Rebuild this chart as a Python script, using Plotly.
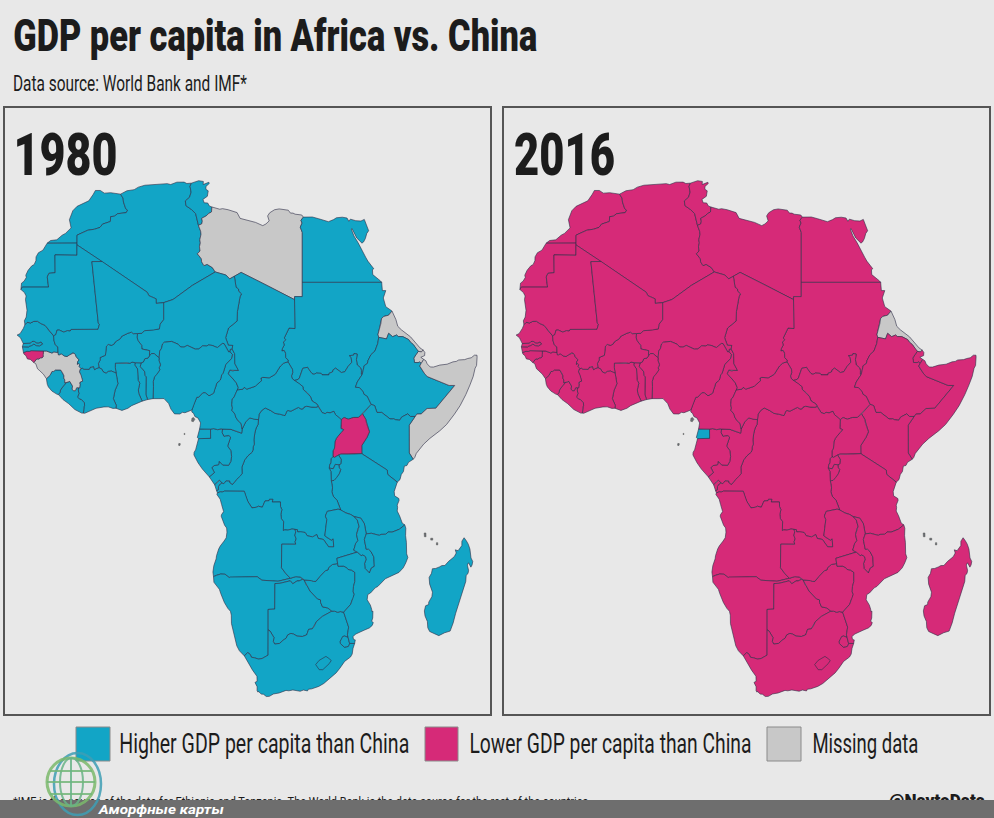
import json
import numpy as np
import plotly.graph_objects as go

BG = '#e8e8e8'
BLUE = '#12a5c6'
PINK = '#d62a78'
GRAY = '#c8c8c8'
INK = '#1c1c1c'
BORDER = 'rgba(45,45,70,0.6)'
FONT = 'Roboto, sans-serif'

# country outlines, lon/lat
outlines = {
'MAR': [(-2.17,35.17),(-1.79,34.53),(-1.73,33.92),(-1.39,32.86),(-1.12,32.65),(-1.31,32.26),(-2.62,32.09),(-3.07,31.72),(-3.65,31.64),(-3.69,30.90),(-4.86,30.5),(-5.24,30.0),(-6.06,29.73),(-7.06,29.58),(-8.67,28.84),(-8.67,27.66),(-13.14,27.64),(-12.62,28.04),(-11.69,28.15),(-10.9,28.83),(-10.4,29.1),(-9.56,29.93),(-9.81,31.18),(-9.3,32.56),(-8.66,33.24),(-7.65,33.70),(-6.91,34.11),(-6.24,35.15),(-5.93,35.76),(-5.19,35.76),(-4.59,35.33),(-3.64,35.40),(-2.6,35.18)],
'ESH': [(-8.67,27.66),(-8.68,27.40),(-8.69,25.88),(-11.97,25.93),(-11.94,23.37),(-12.87,23.28),(-13.12,22.77),(-12.93,21.33),(-16.85,21.33),(-17.06,21.0),(-17.02,21.42),(-16.97,21.89),(-16.59,22.16),(-16.26,22.68),(-16.33,23.02),(-15.98,23.72),(-15.43,24.36),(-15.09,24.52),(-14.82,25.10),(-14.8,25.64),(-14.44,26.25),(-13.77,26.62),(-13.14,27.64)],
'DZA': [(-2.17,35.17),(-1.21,35.71),(-0.13,35.89),(0.50,36.30),(1.47,36.61),(3.16,36.78),(4.82,36.87),(5.32,36.72),(6.26,37.11),(7.33,37.12),(7.74,36.89),(8.42,36.95),(8.22,36.43),(8.38,35.48),(8.14,34.66),(7.52,34.10),(7.61,33.34),(8.43,32.75),(9.06,32.10),(9.48,30.31),(9.81,29.42),(9.86,28.96),(9.68,28.14),(9.76,27.69),(9.63,27.14),(9.72,26.51),(9.32,26.09),(9.91,25.37),(9.95,24.94),(10.30,24.38),(10.77,24.56),(11.56,24.10),(11.99,23.47),(8.57,21.57),(5.68,19.60),(4.27,19.16),(3.16,19.06),(3.15,19.69),(2.68,19.86),(2.06,20.14),(1.82,20.61),(-1.55,22.79),(-4.92,24.97),(-8.68,27.40),(-8.67,27.66),(-8.67,28.84),(-7.06,29.58),(-6.06,29.73),(-5.24,30.0),(-4.86,30.5),(-3.69,30.90),(-3.65,31.64),(-3.07,31.72),(-2.62,32.09),(-1.31,32.26),(-1.12,32.65),(-1.39,32.86),(-1.73,33.92),(-1.79,34.53)],
'TUN': [(9.48,30.31),(9.06,32.10),(8.43,32.75),(7.61,33.34),(7.52,34.10),(8.14,34.66),(8.38,35.48),(8.22,36.43),(8.42,36.95),(9.51,37.35),(10.21,37.23),(10.18,36.72),(11.03,37.09),(11.10,36.90),(10.60,36.41),(10.59,35.95),(10.94,35.70),(10.81,34.83),(10.15,34.33),(10.34,33.79),(10.86,33.77),(11.11,33.29),(11.49,33.14),(11.43,32.37),(10.94,32.08),(10.64,31.76),(9.95,31.38),(10.06,30.96),(9.97,30.54)],
'LBY': [(14.85,22.86),(14.14,22.49),(13.58,23.04),(11.99,23.47),(11.56,24.10),(10.77,24.56),(10.30,24.38),(9.95,24.94),(9.91,25.37),(9.32,26.09),(9.72,26.51),(9.63,27.14),(9.76,27.69),(9.68,28.14),(9.86,28.96),(9.81,29.42),(9.48,30.31),(9.97,30.54),(10.06,30.96),(9.95,31.38),(10.64,31.76),(10.94,32.08),(11.43,32.37),(11.49,33.14),(12.66,32.79),(13.08,32.88),(13.92,32.71),(15.25,32.27),(15.71,31.38),(16.61,31.18),(18.02,30.76),(19.09,30.27),(19.57,30.53),(20.05,30.99),(19.82,31.75),(20.13,32.24),(20.85,32.71),(21.54,32.84),(22.90,32.64),(23.24,32.19),(23.61,32.19),(23.93,32.02),(24.92,31.90),(25.16,31.57),(24.80,31.09),(24.96,30.66),(24.70,30.04),(25.00,29.24),(25.00,22.00),(25.00,20.00),(23.85,20.00),(23.84,19.58),(19.85,21.50),(15.86,23.41)],
'EGY': [(36.87,22.0),(32.9,22.0),(29.02,22.0),(25.0,22.0),(25.0,29.24),(24.70,30.04),(24.96,30.66),(24.80,31.09),(25.16,31.57),(26.50,31.59),(27.46,31.32),(28.45,31.03),(28.91,30.87),(29.68,31.19),(30.10,31.47),(30.98,31.56),(31.69,31.43),(31.96,30.93),(32.19,31.26),(32.99,31.02),(33.77,30.97),(34.27,31.22),(34.92,29.50),(34.64,29.10),(34.43,28.34),(34.15,27.82),(33.92,27.65),(33.14,28.42),(32.42,29.85),(32.32,29.76),(32.73,28.71),(33.35,27.70),(34.10,26.14),(34.47,25.60),(34.80,25.03),(35.69,23.93),(35.49,23.81),(35.53,23.10),(36.69,22.20)],
'SDN': [(23.81,8.67),(24.19,8.73),(24.54,8.92),(25.07,10.27),(25.79,10.41),(25.96,10.14),(26.48,9.55),(26.75,9.47),(27.11,9.64),(27.83,9.60),(27.97,9.40),(28.97,9.40),(29.00,9.60),(29.52,9.79),(29.62,10.08),(29.99,10.29),(30.84,9.71),(31.35,9.81),(31.85,10.53),(32.40,11.08),(32.31,11.68),(32.07,11.97),(32.67,12.02),(32.74,12.25),(33.21,12.18),(33.09,11.44),(33.21,10.72),(33.72,10.33),(33.84,9.98),(33.82,9.48),(33.96,9.46),(34.26,10.63),(34.73,10.91),(34.83,11.32),(35.26,12.08),(35.86,12.58),(36.27,13.56),(36.43,14.42),(36.32,14.82),(36.75,16.29),(36.85,16.96),(37.17,17.26),(37.90,17.43),(38.41,18.0),(37.86,18.37),(37.48,18.61),(37.11,19.81),(37.48,20.84),(36.97,20.84),(36.87,22.0),(32.9,22.0),(29.02,22.0),(25.0,22.0),(25.0,20.0),(23.85,20.0),(23.84,19.58),(23.89,15.61),(23.02,15.68),(22.57,14.94),(22.30,14.33),(22.51,14.09),(22.18,13.79),(22.30,13.37),(22.04,12.96),(21.94,12.59),(22.29,12.65),(22.50,12.26),(22.51,11.68),(22.88,11.38),(22.86,11.14),(23.55,10.09),(23.56,9.68),(23.39,9.27),(23.46,8.95)],
'SSD': [(30.83,3.51),(29.95,4.17),(29.72,4.60),(29.16,4.39),(28.70,4.46),(28.43,4.29),(27.98,4.41),(27.37,5.23),(27.21,5.55),(26.47,5.95),(26.21,6.55),(25.80,6.98),(25.12,7.50),(25.11,7.83),(24.57,8.23),(23.81,8.67),(24.19,8.73),(24.54,8.92),(25.07,10.27),(25.79,10.41),(25.96,10.14),(26.48,9.55),(26.75,9.47),(27.11,9.64),(27.83,9.60),(27.97,9.40),(28.97,9.40),(29.00,9.60),(29.52,9.79),(29.62,10.08),(29.99,10.29),(30.84,9.71),(31.35,9.81),(31.85,10.53),(32.40,11.08),(32.31,11.68),(32.07,11.97),(32.67,12.02),(32.74,12.25),(33.21,12.18),(33.09,11.44),(33.21,10.72),(33.72,10.33),(33.84,9.98),(33.82,9.48),(33.96,9.46),(33.22,8.46),(32.95,7.78),(33.57,7.71),(34.08,7.23),(34.25,6.83),(34.71,6.59),(35.30,5.51),(34.62,4.85),(34.01,4.25),(33.39,3.79),(32.69,3.79),(31.88,3.56),(31.25,3.78)],
'ERI': [(36.43,14.42),(36.32,14.82),(36.75,16.29),(36.85,16.96),(37.17,17.26),(37.90,17.43),(38.41,18.0),(38.99,16.84),(39.27,15.92),(39.81,15.44),(41.18,14.49),(42.59,13.00),(43.08,12.70),(42.78,12.46),(42.35,12.54),(42.00,12.87),(41.60,13.45),(41.16,13.77),(40.90,14.12),(40.03,14.52),(39.34,14.53),(39.10,14.74),(38.51,14.51),(37.91,14.96),(37.59,14.21)],
'DJI': [(42.35,12.54),(42.78,12.46),(43.08,12.70),(43.32,12.39),(43.29,11.97),(42.72,11.74),(43.15,11.46),(42.78,10.93),(42.55,11.11),(42.31,11.03),(41.76,11.05),(41.74,11.36),(41.66,11.63),(42.00,12.10)],
'ETH': [(47.79,8.00),(44.96,5.00),(43.66,4.96),(42.77,4.25),(42.13,4.23),(41.86,3.92),(41.17,3.92),(40.77,4.26),(39.85,3.84),(39.56,3.42),(38.89,3.50),(38.67,3.62),(38.44,3.59),(38.12,3.60),(36.86,4.45),(36.16,4.45),(35.82,5.34),(35.30,5.51),(34.71,6.59),(34.25,6.83),(34.08,7.23),(33.57,7.71),(32.95,7.78),(33.22,8.46),(33.96,9.46),(34.26,10.63),(34.73,10.91),(34.83,11.32),(35.26,12.08),(35.86,12.58),(36.27,13.56),(36.43,14.42),(37.59,14.21),(37.91,14.96),(38.51,14.51),(39.10,14.74),(39.34,14.53),(40.03,14.52),(40.90,14.12),(41.16,13.77),(41.60,13.45),(42.00,12.87),(42.35,12.54),(42.00,12.10),(41.66,11.63),(41.74,11.36),(41.76,11.05),(42.31,11.03),(42.55,11.11),(42.78,10.93),(42.56,10.57),(42.93,10.02),(43.30,9.54),(43.68,9.18),(46.95,8.0)],
'SOM': [(41.58,-1.68),(40.99,-0.86),(40.98,2.78),(41.86,3.92),(42.13,4.23),(42.77,4.25),(43.66,4.96),(44.96,5.00),(47.79,8.00),(46.95,8.0),(43.68,9.18),(43.30,9.54),(42.93,10.02),(42.56,10.57),(42.78,10.93),(43.15,11.46),(43.47,11.28),(43.67,10.86),(44.12,10.45),(44.61,10.44),(45.56,10.70),(46.65,10.82),(47.53,11.13),(48.02,11.19),(48.38,11.38),(48.95,11.41),(49.27,11.43),(49.73,11.58),(50.26,11.68),(50.73,12.02),(51.11,12.02),(51.13,11.75),(51.04,11.17),(51.05,10.64),(50.83,10.28),(50.55,9.20),(50.07,8.08),(49.45,6.80),(48.59,5.34),(47.74,4.22),(46.56,2.86),(45.56,2.05),(44.07,1.05),(43.14,0.29),(42.04,-0.92),(41.81,-1.45)],
'KEN': [(39.20,-4.68),(37.77,-3.68),(37.70,-3.10),(34.07,-1.06),(33.90,-0.95),(33.89,0.11),(34.18,0.52),(34.67,1.18),(35.04,1.91),(34.60,3.05),(34.48,3.56),(34.01,4.25),(34.62,4.85),(35.30,5.51),(35.82,5.34),(36.16,4.45),(36.86,4.45),(38.12,3.60),(38.44,3.59),(38.67,3.62),(38.89,3.50),(39.56,3.42),(39.85,3.84),(40.77,4.26),(41.17,3.92),(41.86,3.92),(40.98,2.78),(40.99,-0.86),(41.58,-1.68),(40.88,-2.08),(40.64,-2.50),(40.26,-2.57),(40.12,-3.28),(39.80,-3.68),(39.60,-4.35)],
'UGA': [(33.90,-0.95),(31.87,-1.03),(30.77,-1.01),(30.42,-1.13),(29.82,-1.44),(29.58,-1.34),(29.59,-0.59),(29.82,-0.21),(29.88,0.60),(30.09,1.06),(30.47,1.58),(30.85,1.85),(31.17,2.20),(30.77,2.34),(30.83,3.51),(31.25,3.78),(31.88,3.56),(32.69,3.79),(33.39,3.79),(34.01,4.25),(34.48,3.56),(34.60,3.05),(35.04,1.91),(34.67,1.18),(34.18,0.52),(33.89,0.11)],
'TZA': [(33.90,-0.95),(34.07,-1.06),(37.70,-3.10),(37.77,-3.68),(39.20,-4.68),(38.74,-5.91),(38.80,-6.48),(39.44,-6.84),(39.47,-7.10),(39.19,-7.70),(39.25,-8.01),(39.19,-8.49),(39.54,-9.11),(39.95,-10.10),(40.32,-10.32),(39.52,-10.90),(38.43,-11.29),(37.83,-11.27),(37.47,-11.57),(36.78,-11.59),(36.51,-11.72),(35.31,-11.44),(34.56,-11.52),(34.28,-10.16),(33.74,-9.42),(32.76,-9.23),(32.19,-8.93),(31.56,-8.76),(31.16,-8.59),(30.74,-8.34),(30.20,-7.08),(29.62,-6.52),(29.42,-5.94),(29.52,-5.42),(29.34,-4.50),(29.75,-4.45),(30.12,-4.09),(30.53,-3.57),(30.74,-3.03),(30.53,-2.81),(30.47,-2.41),(30.76,-2.29),(30.82,-1.70),(30.42,-1.13),(30.77,-1.01),(31.87,-1.03)],
'RWA': [(30.42,-1.13),(30.82,-1.70),(30.76,-2.29),(30.47,-2.41),(29.94,-2.35),(29.63,-2.92),(29.02,-2.84),(29.12,-2.29),(29.25,-2.22),(29.29,-1.62),(29.58,-1.34),(29.82,-1.44)],
'BDI': [(30.47,-2.41),(30.53,-2.81),(30.74,-3.03),(30.53,-3.57),(30.12,-4.09),(29.75,-4.45),(29.34,-4.50),(29.28,-3.29),(29.02,-2.84),(29.63,-2.92),(29.94,-2.35)],
'COD': [(30.83,3.51),(30.77,2.34),(31.17,2.20),(30.85,1.85),(30.47,1.58),(30.09,1.06),(29.88,0.60),(29.82,-0.21),(29.59,-0.59),(29.58,-1.34),(29.29,-1.62),(29.25,-2.22),(29.12,-2.29),(29.02,-2.84),(29.28,-3.29),(29.34,-4.50),(29.52,-5.42),(29.42,-5.94),(29.62,-6.52),(30.20,-7.08),(30.74,-8.34),(30.35,-8.24),(28.73,-8.53),(28.45,-9.16),(28.67,-9.61),(28.50,-10.79),(28.37,-11.79),(28.64,-11.97),(29.34,-12.36),(29.62,-12.18),(29.70,-13.26),(28.93,-13.25),(28.52,-12.70),(28.16,-12.27),(27.39,-12.13),(27.16,-11.61),(26.55,-11.92),(25.75,-11.78),(25.42,-11.33),(24.78,-11.24),(24.31,-11.26),(24.26,-10.95),(23.91,-10.93),(23.46,-10.87),(22.84,-11.02),(22.40,-10.99),(22.16,-11.08),(22.21,-9.89),(21.88,-9.52),(21.80,-8.91),(21.95,-8.31),(21.75,-7.92),(21.73,-7.29),(20.51,-7.30),(20.60,-6.94),(20.09,-6.94),(20.04,-7.12),(19.42,-7.16),(19.17,-7.74),(19.02,-7.99),(18.46,-7.85),(18.13,-7.99),(17.47,-8.07),(17.09,-7.55),(16.86,-7.22),(16.57,-6.62),(16.33,-5.88),(13.38,-5.86),(13.02,-5.98),(12.74,-5.95),(12.32,-6.10),(12.18,-5.79),(12.44,-5.68),(12.47,-5.25),(12.63,-4.99),(12.99,-4.78),(13.26,-4.88),(13.60,-4.50),(14.14,-4.51),(14.21,-4.79),(14.58,-4.97),(15.17,-4.34),(15.75,-3.86),(16.01,-3.54),(15.97,-2.71),(16.41,-1.74),(16.87,-1.23),(17.52,-0.74),(17.64,-0.42),(17.66,-0.06),(17.83,0.29),(17.77,0.86),(17.90,1.74),(18.09,2.37),(18.39,2.90),(18.45,3.50),(18.54,4.20),(18.93,4.71),(19.47,5.03),(20.29,4.69),(20.93,4.32),(21.66,4.22),(22.41,4.03),(22.70,4.63),(22.84,4.71),(23.30,4.61),(24.41,5.11),(24.81,4.90),(25.13,4.93),(25.28,5.17),(25.65,5.26),(26.40,5.15),(27.04,5.13),(27.37,5.23),(27.98,4.41),(28.43,4.29),(28.70,4.46),(29.16,4.39),(29.72,4.60),(29.95,4.17)],
'COG': [(12.99,-4.78),(12.62,-4.44),(12.32,-4.61),(11.91,-5.04),(11.09,-3.98),(11.86,-3.43),(11.48,-2.77),(11.82,-2.51),(12.50,-2.39),(12.58,-1.95),(13.11,-2.43),(13.99,-2.47),(14.30,-1.99),(14.43,-1.33),(14.32,-0.56),(13.84,0.04),(14.28,1.20),(14.03,1.40),(13.28,1.31),(13.00,1.83),(13.08,2.27),(14.34,2.23),(15.15,1.96),(15.94,1.73),(16.01,2.27),(16.54,3.20),(17.13,3.73),(17.81,3.56),(18.45,3.50),(18.39,2.90),(18.09,2.37),(17.90,1.74),(17.77,0.86),(17.83,0.29),(17.66,-0.06),(17.64,-0.42),(17.52,-0.74),(16.87,-1.23),(16.41,-1.74),(15.97,-2.71),(16.01,-3.54),(15.75,-3.86),(15.17,-4.34),(14.58,-4.97),(14.21,-4.79),(14.14,-4.51),(13.60,-4.50),(13.26,-4.88)],
'GAB': [(11.28,2.26),(11.75,2.33),(12.36,2.19),(12.95,2.32),(13.08,2.27),(13.00,1.83),(13.28,1.31),(14.03,1.40),(14.28,1.20),(13.84,0.04),(14.32,-0.56),(14.43,-1.33),(14.30,-1.99),(13.99,-2.47),(13.11,-2.43),(12.58,-1.95),(12.50,-2.39),(11.82,-2.51),(11.48,-2.77),(11.86,-3.43),(11.09,-3.98),(10.07,-2.97),(9.41,-2.14),(8.80,-1.11),(8.83,-0.78),(9.05,-0.46),(9.29,0.27),(9.49,1.01),(9.83,1.07),(11.29,1.06)],
'GNQ': [(9.49,1.01),(9.31,1.16),(9.65,2.28),(11.28,2.26),(11.29,1.06),(9.83,1.07)],
'CMR': [(14.50,12.86),(14.89,12.22),(14.96,11.56),(14.92,10.89),(15.47,9.98),(14.91,9.99),(14.63,9.92),(14.17,10.02),(13.95,9.55),(14.54,8.97),(15.12,8.38),(15.44,7.69),(15.28,7.42),(14.78,6.41),(14.54,6.23),(14.46,5.45),(14.56,5.03),(14.48,4.73),(14.95,4.21),(15.04,3.85),(15.41,3.34),(15.86,3.01),(15.91,2.56),(16.01,2.27),(15.94,1.73),(15.15,1.96),(14.34,2.23),(13.08,2.27),(12.95,2.32),(12.36,2.19),(11.75,2.33),(11.28,2.26),(9.65,2.28),(9.80,3.07),(9.40,3.73),(8.95,3.90),(8.74,4.35),(8.49,4.50),(8.50,4.77),(8.76,5.48),(9.23,6.44),(9.52,6.45),(10.12,7.04),(10.50,7.06),(11.06,6.64),(11.75,6.98),(11.84,7.40),(12.06,7.80),(12.22,8.31),(12.75,8.72),(12.96,9.42),(13.17,9.64),(13.31,10.16),(13.57,10.80),(14.42,11.57),(14.47,11.90),(14.58,12.09),(14.18,12.48),(14.21,12.80)],
'CAF': [(27.37,5.23),(27.04,5.13),(26.40,5.15),(25.65,5.26),(25.28,5.17),(25.13,4.93),(24.81,4.90),(24.41,5.11),(23.30,4.61),(22.84,4.71),(22.70,4.63),(22.41,4.03),(21.66,4.22),(20.93,4.32),(20.29,4.69),(19.47,5.03),(18.93,4.71),(18.54,4.20),(18.45,3.50),(17.81,3.56),(17.13,3.73),(16.54,3.20),(16.01,2.27),(15.91,2.56),(15.86,3.01),(15.41,3.34),(15.04,3.85),(14.95,4.21),(14.48,4.73),(14.56,5.03),(14.46,5.45),(14.54,6.23),(14.78,6.41),(15.28,7.42),(16.11,7.50),(16.29,7.75),(16.46,7.73),(16.71,7.51),(17.96,7.89),(18.39,8.28),(18.91,8.63),(18.81,8.98),(19.09,9.07),(20.06,9.01),(20.96,9.48),(21.72,10.57),(22.23,10.97),(22.86,11.14),(23.55,10.09),(23.56,9.68),(23.39,9.27),(23.46,8.95),(23.81,8.67),(24.57,8.23),(25.11,7.83),(25.12,7.50),(25.80,6.98),(26.21,6.55),(26.47,5.95),(27.21,5.55)],
'TCD': [(23.84,19.58),(23.89,15.61),(23.02,15.68),(22.57,14.94),(22.30,14.33),(22.51,14.09),(22.18,13.79),(22.30,13.37),(22.04,12.96),(21.94,12.59),(22.29,12.65),(22.50,12.26),(22.51,11.68),(22.88,11.38),(22.86,11.14),(22.23,10.97),(21.72,10.57),(20.96,9.48),(20.06,9.01),(19.09,9.07),(18.81,8.98),(18.91,8.63),(18.39,8.28),(17.96,7.89),(16.71,7.51),(16.46,7.73),(16.29,7.75),(16.11,7.50),(15.28,7.42),(15.44,7.69),(15.12,8.38),(14.54,8.97),(13.95,9.55),(14.17,10.02),(14.63,9.92),(14.91,9.99),(15.47,9.98),(14.92,10.89),(14.96,11.56),(14.89,12.22),(14.50,12.86),(14.60,13.33),(13.95,13.35),(13.54,14.37),(13.97,15.68),(15.25,16.63),(15.30,17.93),(15.69,19.96),(15.90,20.39),(15.49,20.73),(15.47,21.05),(15.10,21.31),(14.85,22.86),(15.86,23.41),(19.85,21.50)],
'NER': [(2.15,11.94),(2.18,12.63),(1.02,12.85),(0.99,13.34),(0.43,13.99),(0.30,14.44),(0.37,14.93),(1.02,14.97),(1.39,15.32),(2.75,15.41),(3.64,15.57),(3.72,16.18),(4.27,16.85),(4.27,19.16),(5.68,19.60),(8.57,21.57),(11.99,23.47),(13.58,23.04),(14.14,22.49),(14.85,22.86),(15.10,21.31),(15.47,21.05),(15.49,20.73),(15.90,20.39),(15.69,19.96),(15.30,17.93),(15.25,16.63),(13.97,15.68),(13.54,14.37),(13.95,13.35),(14.60,13.33),(14.50,12.86),(14.21,12.80),(14.18,12.48),(13.99,12.46),(13.32,13.56),(13.08,13.60),(12.30,13.04),(11.53,13.33),(10.99,13.39),(10.70,13.25),(10.11,13.28),(9.52,12.85),(9.01,12.83),(7.80,13.34),(7.33,13.10),(6.82,13.12),(6.45,13.49),(5.44,13.87),(4.37,13.75),(4.11,13.53),(3.97,12.96),(3.68,12.55),(3.61,11.66),(2.85,12.24),(2.49,12.23)],
'NGA': [(8.50,4.77),(7.46,4.41),(7.08,4.46),(6.70,4.24),(5.90,4.26),(5.36,4.89),(5.03,5.61),(4.33,6.27),(3.57,6.26),(2.69,6.26),(2.75,7.87),(2.72,8.51),(2.91,9.14),(3.22,9.44),(3.71,10.06),(3.60,10.33),(3.80,10.73),(3.57,11.33),(3.61,11.66),(3.68,12.55),(3.97,12.96),(4.11,13.53),(4.37,13.75),(5.44,13.87),(6.45,13.49),(6.82,13.12),(7.33,13.10),(7.80,13.34),(9.01,12.83),(9.52,12.85),(10.11,13.28),(10.70,13.25),(10.99,13.39),(11.53,13.33),(12.30,13.04),(13.08,13.60),(13.32,13.56),(13.99,12.46),(14.18,12.48),(14.58,12.09),(14.47,11.90),(14.42,11.57),(13.57,10.80),(13.31,10.16),(13.17,9.64),(12.96,9.42),(12.75,8.72),(12.22,8.31),(12.06,7.80),(11.84,7.40),(11.75,6.98),(11.06,6.64),(10.50,7.06),(10.12,7.04),(9.52,6.45),(9.23,6.44),(8.76,5.48)],
'BEN': [(2.69,6.26),(1.87,6.14),(1.62,6.83),(1.66,9.13),(1.46,9.33),(1.43,9.83),(1.08,10.18),(0.77,10.47),(0.90,11.00),(1.24,11.11),(1.45,11.55),(1.94,11.64),(2.15,11.94),(2.49,12.23),(2.85,12.24),(3.61,11.66),(3.57,11.33),(3.80,10.73),(3.60,10.33),(3.71,10.06),(3.22,9.44),(2.91,9.14),(2.72,8.51),(2.75,7.87)],
'TGO': [(0.90,11.00),(0.77,10.47),(1.08,10.18),(1.43,9.83),(1.46,9.33),(1.66,9.13),(1.62,6.83),(1.87,6.14),(1.06,5.93),(0.84,6.28),(0.57,6.91),(0.49,7.41),(0.71,8.31),(0.46,8.68),(0.37,9.47),(0.37,10.19),(-0.05,10.71),(0.02,11.02)],
'GHA': [(0.02,11.02),(-0.05,10.71),(0.37,10.19),(0.37,9.47),(0.46,8.68),(0.71,8.31),(0.49,7.41),(0.57,6.91),(0.84,6.28),(1.06,5.93),(-0.51,5.34),(-1.06,5.00),(-1.96,4.71),(-2.86,5.00),(-2.81,5.39),(-3.24,6.25),(-2.98,7.38),(-2.56,8.22),(-2.83,9.64),(-2.96,10.40),(-2.94,10.96),(-1.20,11.01),(-0.76,10.94),(-0.44,11.10)],
'BFA': [(-2.83,9.64),(-3.51,9.90),(-3.98,9.86),(-4.33,9.61),(-4.78,9.82),(-4.95,10.15),(-5.40,10.37),(-5.47,10.95),(-5.20,11.38),(-5.22,11.71),(-4.43,12.01),(-4.28,13.23),(-4.01,13.47),(-3.52,13.34),(-3.10,13.54),(-2.97,13.80),(-2.19,14.25),(-2.00,14.56),(-1.07,14.97),(-0.52,15.12),(-0.27,14.92),(0.37,14.93),(0.30,14.44),(0.43,13.99),(0.99,13.34),(1.02,12.85),(2.18,12.63),(2.15,11.94),(1.94,11.64),(1.45,11.55),(1.24,11.11),(0.90,11.00),(0.02,11.02),(-0.44,11.10),(-0.76,10.94),(-1.20,11.01),(-2.94,10.96),(-2.96,10.40)],
'CIV': [(-2.86,5.00),(-3.31,4.98),(-4.01,5.18),(-4.65,5.17),(-5.83,4.99),(-6.53,4.71),(-7.52,4.34),(-7.71,4.36),(-7.64,5.19),(-7.54,5.31),(-7.57,5.71),(-8.03,6.15),(-8.31,6.19),(-8.60,6.47),(-8.39,6.91),(-8.49,7.40),(-8.44,7.69),(-8.28,7.69),(-8.22,8.12),(-8.30,8.32),(-8.20,8.46),(-7.83,8.58),(-8.08,9.38),(-8.31,9.79),(-8.23,10.13),(-8.03,10.21),(-7.90,10.30),(-7.62,10.15),(-6.85,10.14),(-6.67,10.43),(-6.49,10.41),(-6.21,10.52),(-6.05,10.10),(-5.82,10.22),(-5.40,10.37),(-4.95,10.15),(-4.78,9.82),(-4.33,9.61),(-3.98,9.86),(-3.51,9.90),(-2.83,9.64),(-2.56,8.22),(-2.98,7.38),(-3.24,6.25),(-2.81,5.39)],
'LBR': [(-7.71,4.36),(-7.97,4.36),(-9.00,4.83),(-9.91,5.59),(-10.77,6.14),(-11.44,6.79),(-11.20,7.11),(-11.15,7.40),(-10.70,7.94),(-10.23,8.41),(-10.02,8.43),(-9.76,8.54),(-9.34,7.93),(-9.40,7.51),(-9.21,7.31),(-8.93,7.31),(-8.72,7.71),(-8.44,7.69),(-8.49,7.40),(-8.39,6.91),(-8.60,6.47),(-8.31,6.19),(-8.03,6.15),(-7.57,5.71),(-7.54,5.31),(-7.64,5.19)],
'SLE': [(-11.44,6.79),(-11.71,6.86),(-12.43,7.26),(-12.95,7.80),(-13.12,8.16),(-13.25,8.90),(-12.71,9.34),(-12.60,9.62),(-12.43,9.84),(-12.15,9.86),(-11.92,10.05),(-11.12,10.05),(-10.84,9.69),(-10.62,9.27),(-10.65,8.98),(-10.49,8.72),(-10.51,8.35),(-10.23,8.41),(-10.70,7.94),(-11.15,7.40),(-11.20,7.11)],
'GIN': [(-13.70,9.49),(-14.07,9.89),(-14.33,10.02),(-14.58,10.21),(-14.69,10.66),(-14.84,10.88),(-15.13,11.04),(-14.69,11.53),(-14.38,11.51),(-14.12,11.68),(-13.90,11.68),(-13.74,11.81),(-13.83,12.14),(-13.72,12.25),(-13.70,12.59),(-13.22,12.58),(-12.50,12.33),(-12.28,12.35),(-12.20,12.47),(-11.66,12.39),(-11.51,12.44),(-11.46,12.08),(-11.30,12.08),(-11.04,12.21),(-10.87,12.18),(-10.59,11.92),(-10.17,11.84),(-9.89,12.06),(-9.57,12.19),(-9.33,12.33),(-9.13,12.31),(-8.91,12.09),(-8.79,11.81),(-8.38,11.39),(-8.58,11.14),(-8.62,10.81),(-8.41,10.91),(-8.28,10.79),(-8.34,10.49),(-8.03,10.21),(-8.23,10.13),(-8.31,9.79),(-8.08,9.38),(-7.83,8.58),(-8.20,8.46),(-8.30,8.32),(-8.22,8.12),(-8.28,7.69),(-8.44,7.69),(-8.72,7.71),(-8.93,7.31),(-9.21,7.31),(-9.40,7.51),(-9.34,7.93),(-9.76,8.54),(-10.02,8.43),(-10.23,8.41),(-10.51,8.35),(-10.49,8.72),(-10.65,8.98),(-10.62,9.27),(-10.84,9.69),(-11.12,10.05),(-11.92,10.05),(-12.15,9.86),(-12.43,9.84),(-12.60,9.62),(-12.71,9.34),(-13.25,8.90)],
'GNB': [(-16.68,12.38),(-16.15,12.55),(-15.82,12.52),(-15.55,12.63),(-13.70,12.59),(-13.72,12.25),(-13.83,12.14),(-13.74,11.81),(-13.90,11.68),(-14.12,11.68),(-14.38,11.51),(-14.69,11.53),(-15.13,11.04),(-15.66,11.46),(-16.09,11.52),(-16.31,11.81),(-16.31,11.96),(-16.61,12.17)],
'SEN': [(-16.71,13.59),(-17.13,14.37),(-17.63,14.73),(-17.19,14.92),(-16.70,15.62),(-16.46,16.14),(-16.12,16.46),(-15.62,16.37),(-15.14,16.59),(-14.58,16.60),(-14.10,16.30),(-13.44,16.04),(-12.83,15.30),(-12.17,14.62),(-12.12,14.00),(-11.93,13.42),(-11.55,13.14),(-11.51,12.44),(-11.66,12.39),(-12.20,12.47),(-12.28,12.35),(-12.50,12.33),(-13.22,12.58),(-13.70,12.59),(-15.55,12.63),(-15.82,12.52),(-16.15,12.55),(-16.68,12.38),(-16.84,13.15),(-15.93,13.13),(-15.69,13.27),(-15.51,13.28),(-15.14,13.51),(-14.71,13.30),(-14.28,13.28),(-13.84,13.51),(-14.05,13.79),(-14.38,13.63),(-14.69,13.63),(-15.08,13.88),(-15.40,13.86),(-15.62,13.62)],
'GMB': [(-16.84,13.15),(-16.71,13.59),(-15.62,13.62),(-15.40,13.86),(-15.08,13.88),(-14.69,13.63),(-14.38,13.63),(-14.05,13.79),(-13.84,13.51),(-14.28,13.28),(-14.71,13.30),(-15.14,13.51),(-15.51,13.28),(-15.69,13.27),(-15.93,13.13)],
'MRT': [(-12.17,14.62),(-12.83,15.30),(-13.44,16.04),(-14.10,16.30),(-14.58,16.60),(-15.14,16.59),(-15.62,16.37),(-16.12,16.46),(-16.46,16.14),(-16.55,16.67),(-16.27,17.17),(-16.15,18.11),(-16.26,19.10),(-16.38,19.59),(-16.28,20.09),(-16.54,20.57),(-17.06,21.0),(-16.85,21.33),(-12.93,21.33),(-13.12,22.77),(-12.87,23.28),(-11.94,23.37),(-11.97,25.93),(-8.69,25.88),(-8.68,27.40),(-4.92,24.97),(-6.45,24.96),(-5.97,20.64),(-5.49,16.33),(-5.32,16.20),(-5.54,15.50),(-9.55,15.49),(-9.70,15.26),(-10.09,15.33),(-10.65,15.13),(-11.35,15.41),(-11.67,15.39),(-11.83,14.80)],
'MLI': [(-12.17,14.62),(-11.83,14.80),(-11.67,15.39),(-11.35,15.41),(-10.65,15.13),(-10.09,15.33),(-9.70,15.26),(-9.55,15.49),(-5.54,15.50),(-5.32,16.20),(-5.49,16.33),(-5.97,20.64),(-6.45,24.96),(-4.92,24.97),(-1.55,22.79),(1.82,20.61),(2.06,20.14),(2.68,19.86),(3.15,19.69),(3.16,19.06),(4.27,19.16),(4.27,16.85),(3.72,16.18),(3.64,15.57),(2.75,15.41),(1.39,15.32),(1.02,14.97),(0.37,14.93),(-0.27,14.92),(-0.52,15.12),(-1.07,14.97),(-2.00,14.56),(-2.19,14.25),(-2.97,13.80),(-3.10,13.54),(-3.52,13.34),(-4.01,13.47),(-4.28,13.23),(-4.43,12.01),(-5.22,11.71),(-5.20,11.38),(-5.47,10.95),(-5.40,10.37),(-5.82,10.22),(-6.05,10.10),(-6.21,10.52),(-6.49,10.41),(-6.67,10.43),(-6.85,10.14),(-7.62,10.15),(-7.90,10.30),(-8.03,10.21),(-8.34,10.49),(-8.28,10.79),(-8.41,10.91),(-8.62,10.81),(-8.58,11.14),(-8.38,11.39),(-8.79,11.81),(-8.91,12.09),(-9.13,12.31),(-9.33,12.33),(-9.57,12.19),(-9.89,12.06),(-10.17,11.84),(-10.59,11.92),(-10.87,12.18),(-11.04,12.21),(-11.30,12.08),(-11.46,12.08),(-11.51,12.44),(-11.55,13.14),(-11.93,13.42),(-12.12,14.00)],
'AGO': [(16.33,-5.88),(16.57,-6.62),(16.86,-7.22),(17.09,-7.55),(17.47,-8.07),(18.13,-7.99),(18.46,-7.85),(19.02,-7.99),(19.17,-7.74),(19.42,-7.16),(20.04,-7.12),(20.09,-6.94),(20.60,-6.94),(20.51,-7.30),(21.73,-7.29),(21.75,-7.92),(21.95,-8.31),(21.80,-8.91),(21.88,-9.52),(22.21,-9.89),(22.16,-11.08),(22.40,-10.99),(22.84,-11.02),(23.46,-10.87),(23.91,-10.93),(24.02,-11.24),(23.90,-11.72),(24.08,-12.19),(23.93,-12.57),(24.02,-12.91),(21.93,-12.90),(21.89,-16.08),(22.56,-16.90),(23.22,-17.52),(21.38,-17.93),(18.96,-17.79),(18.26,-17.31),(14.21,-17.35),(14.06,-17.42),(13.46,-16.97),(12.81,-16.94),(12.21,-17.11),(11.73,-17.30),(11.64,-16.67),(11.78,-15.79),(12.12,-14.88),(12.18,-14.45),(12.50,-13.55),(12.74,-13.14),(13.31,-12.48),(13.63,-12.04),(13.74,-11.30),(13.69,-10.73),(13.39,-10.37),(13.12,-9.77),(12.88,-9.17),(12.93,-8.96),(13.24,-8.56),(12.93,-7.60),(12.73,-6.93),(12.23,-6.29),(12.32,-6.10),(12.74,-5.95),(13.02,-5.98),(13.38,-5.86)],
'CAB': [(12.44,-5.68),(12.18,-5.79),(11.91,-5.04),(12.32,-4.61),(12.62,-4.44),(12.99,-4.78),(12.63,-4.99),(12.47,-5.25)],
'NAM': [(16.34,-28.58),(15.60,-27.82),(15.21,-27.09),(14.99,-26.12),(14.74,-25.39),(14.41,-23.85),(14.39,-22.66),(14.26,-22.11),(13.87,-21.70),(13.35,-20.87),(12.83,-19.67),(12.61,-19.05),(11.79,-18.07),(11.73,-17.30),(12.21,-17.11),(12.81,-16.94),(13.46,-16.97),(14.06,-17.42),(14.21,-17.35),(18.26,-17.31),(18.96,-17.79),(21.38,-17.93),(23.22,-17.52),(24.03,-17.30),(24.68,-17.35),(25.08,-17.58),(25.08,-17.66),(24.52,-17.89),(24.22,-17.89),(23.58,-18.28),(23.20,-17.87),(21.66,-18.22),(20.91,-18.25),(20.88,-21.81),(19.90,-21.85),(19.90,-24.77),(19.89,-28.46),(19.00,-28.97),(18.46,-29.05),(17.84,-28.86),(17.39,-28.78),(17.22,-28.36),(16.82,-28.08)],
'BWA': [(25.08,-17.66),(25.26,-17.74),(25.65,-18.54),(25.85,-18.71),(26.16,-19.29),(27.30,-20.39),(27.72,-20.50),(27.73,-20.85),(28.02,-21.49),(28.79,-21.64),(29.43,-22.09),(28.02,-22.83),(27.12,-23.57),(26.79,-24.24),(26.49,-24.62),(25.94,-24.70),(25.77,-25.17),(25.66,-25.49),(25.03,-25.72),(24.21,-25.67),(23.73,-25.39),(23.31,-25.27),(22.82,-25.50),(22.58,-25.98),(22.11,-26.28),(21.61,-26.73),(20.89,-26.83),(20.67,-26.48),(20.76,-25.87),(20.17,-24.92),(19.90,-24.77),(19.90,-21.85),(20.88,-21.81),(20.91,-18.25),(21.66,-18.22),(23.20,-17.87),(23.58,-18.28),(24.22,-17.89),(24.52,-17.89)],
'ZAF': [(16.34,-28.58),(16.82,-28.08),(17.22,-28.36),(17.39,-28.78),(17.84,-28.86),(18.46,-29.05),(19.00,-28.97),(19.89,-28.46),(19.90,-24.77),(20.17,-24.92),(20.76,-25.87),(20.67,-26.48),(20.89,-26.83),(21.61,-26.73),(22.11,-26.28),(22.58,-25.98),(22.82,-25.50),(23.31,-25.27),(23.73,-25.39),(24.21,-25.67),(25.03,-25.72),(25.66,-25.49),(25.77,-25.17),(25.94,-24.70),(26.49,-24.62),(26.79,-24.24),(27.12,-23.57),(28.02,-22.83),(29.43,-22.09),(29.84,-22.10),(30.32,-22.27),(30.66,-22.15),(31.19,-22.25),(31.67,-23.66),(31.93,-24.37),(31.75,-25.48),(31.84,-25.84),(31.33,-25.66),(31.04,-25.73),(30.95,-26.02),(30.68,-26.40),(30.69,-26.74),(31.28,-27.29),(31.87,-27.18),(32.07,-26.73),(32.83,-26.74),(32.58,-27.47),(32.46,-28.30),(32.20,-28.75),(31.33,-29.40),(30.90,-29.91),(30.62,-30.42),(30.06,-31.14),(28.93,-32.17),(28.22,-32.77),(27.46,-33.23),(26.42,-33.61),(25.91,-33.67),(25.78,-33.94),(25.17,-33.80),(24.68,-33.99),(23.59,-33.79),(22.99,-33.92),(22.57,-33.86),(21.54,-34.26),(20.69,-34.42),(20.07,-34.80),(19.62,-34.82),(19.19,-34.46),(18.86,-34.44),(18.42,-33.99),(18.38,-34.14),(18.24,-33.87),(18.25,-33.28),(17.93,-32.61),(18.25,-32.43),(18.22,-31.66),(17.57,-30.73),(17.06,-29.88)],
'LSO': [(28.98,-28.96),(29.33,-29.26),(29.02,-29.74),(28.54,-30.13),(28.07,-30.65),(27.53,-30.65),(27.00,-29.88),(27.53,-29.24),(28.07,-28.85),(28.54,-28.65)],
'SWZ': [(32.07,-26.73),(31.87,-27.18),(31.28,-27.29),(30.69,-26.74),(30.68,-26.40),(30.95,-26.02),(31.04,-25.73),(31.33,-25.66),(31.84,-25.84)],
'ZWE': [(31.19,-22.25),(30.66,-22.15),(30.32,-22.27),(29.84,-22.10),(29.43,-22.09),(28.79,-21.64),(28.02,-21.49),(27.73,-20.85),(27.72,-20.50),(27.30,-20.39),(26.16,-19.29),(25.85,-18.71),(25.65,-18.54),(25.26,-17.74),(26.38,-17.85),(26.71,-17.96),(27.04,-17.94),(27.60,-17.29),(28.47,-16.47),(28.83,-16.39),(28.95,-16.04),(29.52,-15.64),(30.27,-15.51),(30.34,-15.88),(31.17,-15.86),(31.64,-16.07),(31.85,-16.32),(32.33,-16.39),(32.85,-16.71),(32.85,-17.98),(32.65,-18.67),(32.61,-19.42),(32.77,-19.72),(32.66,-20.30),(32.51,-20.40),(32.24,-21.12)],
'ZMB': [(30.74,-8.34),(31.16,-8.59),(31.56,-8.76),(32.19,-8.93),(32.76,-9.23),(33.23,-9.68),(33.49,-10.53),(33.32,-10.80),(33.11,-11.61),(33.31,-12.44),(32.99,-12.78),(32.69,-13.71),(33.21,-13.97),(30.18,-14.80),(30.27,-15.51),(29.52,-15.64),(28.95,-16.04),(28.83,-16.39),(28.47,-16.47),(27.60,-17.29),(27.04,-17.94),(26.71,-17.96),(26.38,-17.85),(25.26,-17.74),(25.08,-17.66),(25.08,-17.58),(24.68,-17.35),(24.03,-17.30),(23.22,-17.52),(22.56,-16.90),(21.89,-16.08),(21.93,-12.90),(24.02,-12.91),(23.93,-12.57),(24.08,-12.19),(23.90,-11.72),(24.02,-11.24),(23.91,-10.93),(24.26,-10.95),(24.31,-11.26),(24.78,-11.24),(25.42,-11.33),(25.75,-11.78),(26.55,-11.92),(27.16,-11.61),(27.39,-12.13),(28.16,-12.27),(28.52,-12.70),(28.93,-13.25),(29.70,-13.26),(29.62,-12.18),(29.34,-12.36),(28.64,-11.97),(28.37,-11.79),(28.50,-10.79),(28.67,-9.61),(28.45,-9.16),(28.73,-8.53),(30.35,-8.24)],
'MWI': [(32.76,-9.23),(33.74,-9.42),(34.28,-10.16),(34.56,-11.52),(34.28,-12.28),(34.56,-13.58),(34.91,-13.57),(35.27,-13.89),(35.69,-14.61),(35.77,-15.90),(35.34,-16.11),(35.03,-16.80),(34.38,-16.18),(34.31,-15.48),(34.52,-15.01),(34.46,-14.61),(34.06,-14.36),(33.79,-14.45),(33.21,-13.97),(32.69,-13.71),(32.99,-12.78),(33.31,-12.44),(33.11,-11.61),(33.32,-10.80),(33.49,-10.53),(33.23,-9.68)],
'MOZ': [(34.56,-11.52),(35.31,-11.44),(36.51,-11.72),(36.78,-11.59),(37.47,-11.57),(37.83,-11.27),(38.43,-11.29),(39.52,-10.90),(40.32,-10.32),(40.48,-10.77),(40.44,-11.76),(40.56,-12.64),(40.60,-14.20),(40.78,-14.69),(40.48,-15.41),(40.09,-16.10),(39.45,-16.72),(38.54,-17.10),(37.41,-17.59),(36.28,-18.66),(35.90,-18.84),(35.20,-19.55),(34.79,-19.78),(34.70,-20.50),(35.18,-21.25),(35.37,-21.84),(35.39,-22.14),(35.56,-22.09),(35.53,-23.07),(35.37,-23.54),(35.61,-23.71),(35.46,-24.12),(35.04,-24.48),(34.22,-24.82),(33.01,-25.36),(32.57,-25.73),(32.66,-26.15),(32.92,-26.22),(32.83,-26.74),(32.07,-26.73),(31.84,-25.84),(31.75,-25.48),(31.93,-24.37),(31.67,-23.66),(31.19,-22.25),(32.24,-21.12),(32.51,-20.40),(32.66,-20.30),(32.77,-19.72),(32.61,-19.42),(32.65,-18.67),(32.85,-17.98),(32.85,-16.71),(32.33,-16.39),(31.85,-16.32),(31.64,-16.07),(31.17,-15.86),(30.34,-15.88),(30.27,-15.51),(30.18,-14.80),(33.21,-13.97),(33.79,-14.45),(34.06,-14.36),(34.46,-14.61),(34.52,-15.01),(34.31,-15.48),(34.38,-16.18),(35.03,-16.80),(35.34,-16.11),(35.77,-15.90),(35.69,-14.61),(35.27,-13.89),(34.91,-13.57),(34.56,-13.58),(34.28,-12.28)],
'MDG': [(49.54,-12.47),(49.81,-12.90),(50.06,-13.56),(50.22,-14.76),(50.48,-15.23),(50.38,-15.71),(50.20,-16.00),(49.86,-15.41),(49.67,-15.71),(49.86,-16.45),(49.77,-16.88),(49.50,-17.11),(49.44,-17.95),(48.55,-20.50),(47.93,-22.39),(47.55,-23.78),(47.10,-24.94),(46.28,-25.18),(45.41,-25.60),(44.83,-25.35),(44.04,-25.00),(43.76,-24.46),(43.70,-23.57),(43.35,-22.78),(43.25,-22.06),(43.43,-21.34),(43.89,-21.16),(43.90,-20.83),(44.37,-20.07),(44.46,-19.44),(44.23,-18.96),(44.04,-18.33),(43.96,-17.41),(44.31,-16.85),(44.45,-16.22),(44.94,-16.18),(45.50,-15.97),(45.87,-15.79),(46.31,-15.78),(46.88,-15.21),(47.71,-14.59),(48.01,-14.09),(47.87,-13.66),(48.29,-13.78),(48.85,-13.09),(48.86,-12.49),(49.19,-12.04)],
}

islands = [
    [(8.45,3.3),(8.7,3.22),(8.95,3.55),(8.75,3.78),(8.5,3.7)],
    [(6.5,0.15),(6.7,0.1),(6.78,0.35),(6.55,0.4)],
    [(7.33,1.55),(7.45,1.55),(7.45,1.7),(7.33,1.7)],
    [(43.22,-11.4),(43.48,-11.4),(43.5,-11.9),(43.25,-11.9)],
    [(44.2,-12.1),(44.5,-12.1),(44.5,-12.35),(44.2,-12.35)],
    [(45.05,-12.7),(45.25,-12.7),(45.25,-13.0),(45.05,-13.0)],
]

# status per map, everything else is "higher" in 1980 and "lower" in 2016
lower_1980 = ['UGA', 'GNB']
missing_1980 = ['LBY', 'GIN', 'ERI', 'DJI', 'SOM']
higher_2016 = ['GNQ']
missing_2016 = ['ERI']

panels = [('1980', 'x', 'y', lower_1980, missing_1980), ('2016', 'x2', 'y2', higher_2016, missing_2016)]


def colour_for(year, code, special, missing):
    if code in missing:
        return GRAY
    if year == '1980':
        return PINK if code in special else BLUE
    return BLUE if code in special else PINK


fig = go.Figure()
for year, xa, ya, special, missing in panels:
    for code, ring in outlines.items():
        lon, lat = zip(*ring)
        key = 'AGO' if code == 'CAB' else code
        fig.add_trace(go.Scatter(
            x=list(lon) + [lon[0]], y=np.sin(np.radians(list(lat) + [lat[0]])),
            xaxis=xa, yaxis=ya, mode='lines', fill='toself', name=code,
            fillcolor=colour_for(year, key, special, missing),
            line=dict(color=BORDER, width=1), hoverinfo='name'))
    for ring in islands:
        lon, lat = zip(*ring)
        fig.add_trace(go.Scatter(
            x=list(lon) + [lon[0]], y=np.sin(np.radians(list(lat) + [lat[0]])),
            xaxis=xa, yaxis=ya, mode='lines', fill='toself',
            fillcolor='#6a6f74', line=dict(color='#555555', width=0.5), hoverinfo='skip'))

FOOTNOTE = '*IMF is the source of the data for Ethiopia and Tanzania. The World Bank is the data source for the rest of the countries.'
HANDLE = '@NaytoData'

# these two are cut off by the grey strip at the bottom
fig.add_trace(go.Scatter(
    x=[302], y=[803], xaxis='x3', yaxis='y3', mode='text', textposition='middle center',
    text=[FOOTNOTE], textfont=dict(family=FONT, size=13, color=INK), hoverinfo='skip'))
fig.add_trace(go.Scatter(
    x=[937], y=[802], xaxis='x3', yaxis='y3', mode='text', textposition='middle center',
    text=[HANDLE], textfont=dict(family=FONT, size=19, color=INK, weight=900), hoverinfo='skip'))


def axis(domain, rng, anchor):
    return dict(domain=domain, range=rng, anchor=anchor, showticklabels=False, ticks='', showgrid=False,
                zeroline=False, showline=True, mirror=True, linecolor='#555555', linewidth=1.5)


W, H = 994, 818
LON_RANGE = [-19.44, 53.06]
Y_RANGE = [-0.611, 0.7727]
y_dom = [1 - 714 / H, 1 - 108 / H]


def px(x):
    return x / W


def py(y):
    return 1 - y / H


shapes = []
for x0, x1, colour in [(76, 110, BLUE), (425, 458, PINK), (767, 801, GRAY)]:
    shapes.append(dict(type='rect', xref='paper', yref='paper', x0=px(x0), x1=px(x1), y0=py(761), y1=py(727),
                       fillcolor=colour, line=dict(color='#8a8a8a', width=1)))
shapes.append(dict(type='rect', xref='paper', yref='paper', x0=0, x1=1, y0=0, y1=py(800),
                   fillcolor='#6e6e6e', line=dict(width=0), layer='above'))


def ring_shape(x0, x1, y0, y1, colour, width):
    return dict(type='circle', xref='paper', yref='paper', x0=px(x0), x1=px(x1), y0=py(y1), y1=py(y0),
                line=dict(color=colour, width=width), layer='above', opacity=0.85)


def line_shape(x0, y0, x1, y1, colour):
    return dict(type='line', xref='paper', yref='paper', x0=px(x0), x1=px(x1), y0=py(y0), y1=py(y1),
                line=dict(color=colour, width=2), layer='above', opacity=0.85)


# watermark globe
shapes += [
    ring_shape(54, 101, 753, 815, '#3f9fb5', 2.5),
    ring_shape(47, 95, 758, 806, '#7cba6c', 3),
    ring_shape(60, 83, 758, 806, '#69b487', 2),
    line_shape(50, 771, 92, 771, '#74b77a'),
    line_shape(47, 782, 95, 782, '#74b77a'),
    line_shape(50, 794, 92, 794, '#74b77a'),
    line_shape(71, 758, 71, 806, '#69b487'),
]

# (text, centre x, centre y, width, size, weight, colour, style)
labels = [
    ('GDP per capita in Africa vs. China', 274.5, 36, 524, 44, 900, INK, 'normal'),
    ('Data source: World Bank and IMF*', 130, 83, 234, 22, 400, INK, 'normal'),
    ('1980', 65, 154, 104, 59, 900, INK, 'normal'),
    ('2016', 564, 154, 101, 59, 900, INK, 'normal'),
    ('Higher GDP per capita than China', 264.5, 744, 290, 27, 400, INK, 'normal'),
    ('Lower GDP per capita than China', 610, 744, 282, 27, 400, INK, 'normal'),
    ('Missing data', 865, 744, 106, 27, 400, INK, 'normal'),
    ('Аморфные карты', 160.5, 809, 125, 13, 700, 'white', 'italic'),
]
annotations = [
    dict(text=t, x=px(cx), y=py(cy), xref='paper', yref='paper', xanchor='center', yanchor='middle', showarrow=False,
         font=dict(family=FONT, size=size, weight=weight, color=colour, style=style))
    for t, cx, cy, w, size, weight, colour, style in labels
]

fig.update_layout(
    width=W, height=H, margin=dict(l=0, r=0, t=0, b=0), autosize=False,
    paper_bgcolor=BG, plot_bgcolor='rgba(0,0,0,0)', showlegend=False,
    xaxis=axis([5 / W, 490 / W], LON_RANGE, 'y'),
    yaxis=axis(y_dom, Y_RANGE, 'x'),
    xaxis2=axis([504 / W, 989 / W], LON_RANGE, 'y2'),
    yaxis2=axis(y_dom, Y_RANGE, 'x2'),
    xaxis3=dict(domain=[0, 1], range=[0, W], visible=False, anchor='y3'),
    yaxis3=dict(domain=[0, 1], range=[H, 0], visible=False, anchor='x3'),
    shapes=shapes, annotations=annotations,
)

# the reference face is very condensed and none of the installed ones are, so squeeze the glyphs
widths = {t: w for t, cx, cy, w, *_ in labels}
widths[FOOTNOTE] = 578
widths[HANDLE] = 96
squeeze = """
document.body.style.margin = '0';
var widths = %s;
document.querySelectorAll('svg text').forEach(function (el) {
  var w = widths[el.textContent];
  if (w) { el.setAttribute('textLength', w); el.setAttribute('lengthAdjust', 'spacingAndGlyphs'); }
});
""" % json.dumps(widths, ensure_ascii=False)

fig.write_html("out.html", post_script=squeeze, config={'displayModeBar': False})
